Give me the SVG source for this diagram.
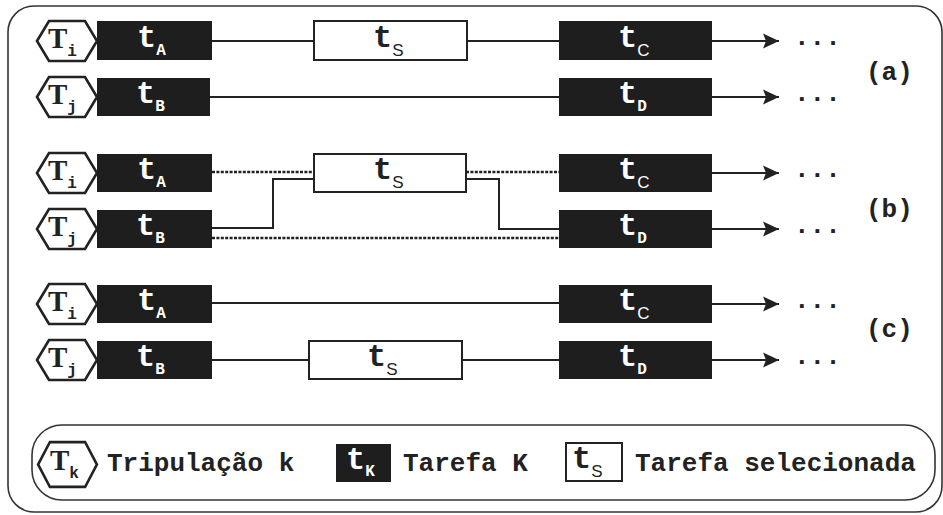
<svg xmlns="http://www.w3.org/2000/svg" width="943" height="515" viewBox="0 0 943 515">
<defs>
<style>
.frame{fill:#fff;stroke:#333;stroke-width:1.6}
.blk{fill:#1e1e1e}
.wbox{fill:#fff;stroke:#222;stroke-width:2}
.hex{fill:#fff;stroke:#222;stroke-width:2.6}
.ln{stroke:#222;stroke-width:2;fill:none}
.dt{stroke:#222;stroke-width:2.6;stroke-dasharray:3 1.4;fill:none}
.ar{stroke:#222;stroke-width:2;fill:none;marker-end:url(#ah)}
.mono{font-family:"Liberation Mono","Courier New",monospace;font-weight:bold}
.serif{font-family:"Liberation Serif","Times New Roman",serif;font-weight:bold}
.tw{fill:#fff}
.tb{fill:#222}
.big{font-size:32px}
.hx{font-size:29px}
.lab{font-size:26px;fill:#222}
.sub{font-size:16px}
.subs{font-size:17px;font-family:"Liberation Sans",Arial,sans-serif;font-weight:normal}
</style>
<marker id="ah" markerWidth="17" markerHeight="16" refX="16" refY="8" orient="auto" markerUnits="userSpaceOnUse">
<path d="M0,0.5 L16,8 L0,15.5 L3,8 Z" fill="#222"/>
</marker>
<polygon id="hexshape" points="-30,0 -18,-20 18,-20 30,0 18,20 -18,20"/>
</defs>

<rect class="frame" x="8" y="6" width="934" height="506" rx="26"/>

<g id="connectors">
<!-- (a) -->
<path class="ln" d="M212,41 H314 M467,41 H559"/>
<path class="ln" d="M210,97 H559"/>
<path class="ar" d="M712,41 H779"/>
<path class="ar" d="M712,97 H779"/>
<!-- (b) -->
<path class="dt" d="M212,172 H314 M466,172 H559"/>
<path class="dt" d="M212,238 H559"/>
<path class="ln" d="M212,228 H273 V179 H314"/>
<path class="ln" d="M466,179 H499 V229 H559"/>
<path class="ar" d="M712,173 H779"/>
<path class="ar" d="M712,229 H779"/>
<!-- (c) -->
<path class="ln" d="M212,303 H559"/>
<path class="ln" d="M212,360 H309 M462,360 H559"/>
<path class="ar" d="M712,304 H779"/>
<path class="ar" d="M712,360 H779"/>
</g>

<!-- row a1 -->
<g id="a-Ti">
<use href="#hexshape" class="hex" x="67" y="41"/>
<text class="serif tb hx" x="48" y="48">T<tspan class="mono sub" dy="8">i</tspan></text>
</g>
<g id="a-tA">
<rect class="blk" x="97" y="21" width="115" height="39"/>
<text class="mono tw big" x="137" y="47">t<tspan class="sub" dy="8">A</tspan></text>
</g>
<g id="a-tS">
<rect class="wbox" x="314" y="21" width="153" height="39"/>
<text class="mono tb big" x="373" y="47">t<tspan class="subs" dy="9">S</tspan></text>
</g>
<g id="a-tC">
<rect class="blk" x="559" y="21" width="153" height="39"/>
<text class="mono tw big" x="618" y="47">t<tspan class="subs" dy="9">C</tspan></text>
</g>
<text class="mono lab" x="794" y="45">...</text>

<!-- row a2 -->
<g id="a-Tj">
<use href="#hexshape" class="hex" x="67" y="97"/>
<text class="serif tb hx" x="48" y="104">T<tspan class="mono sub" dy="8">j</tspan></text>
</g>
<g id="a-tB">
<rect class="blk" x="97" y="78" width="113" height="38"/>
<text class="mono tw big" x="136" y="103">t<tspan class="sub" dy="8">B</tspan></text>
</g>
<g id="a-tD">
<rect class="blk" x="559" y="78" width="153" height="38"/>
<text class="mono tw big" x="618" y="103">t<tspan class="sub" dy="8">D</tspan></text>
</g>
<text class="mono lab" x="794" y="101">...</text>
<text class="mono lab" x="866" y="80">(a)</text>

<!-- row b1 -->
<g id="b-Ti">
<use href="#hexshape" class="hex" x="67" y="173"/>
<text class="serif tb hx" x="48" y="180">T<tspan class="mono sub" dy="8">i</tspan></text>
</g>
<g id="b-tA">
<rect class="blk" x="97" y="154" width="115" height="38"/>
<text class="mono tw big" x="137" y="179">t<tspan class="sub" dy="8">A</tspan></text>
</g>
<g id="b-tS">
<rect class="wbox" x="314" y="154" width="152" height="38"/>
<text class="mono tb big" x="373" y="179">t<tspan class="subs" dy="9">S</tspan></text>
</g>
<g id="b-tC">
<rect class="blk" x="559" y="154" width="153" height="38"/>
<text class="mono tw big" x="618" y="179">t<tspan class="subs" dy="9">C</tspan></text>
</g>
<text class="mono lab" x="794" y="177">...</text>

<!-- row b2 -->
<g id="b-Tj">
<use href="#hexshape" class="hex" x="67" y="229"/>
<text class="serif tb hx" x="48" y="236">T<tspan class="mono sub" dy="8">j</tspan></text>
</g>
<g id="b-tB">
<rect class="blk" x="97" y="210" width="115" height="38"/>
<text class="mono tw big" x="136" y="235">t<tspan class="sub" dy="8">B</tspan></text>
</g>
<g id="b-tD">
<rect class="blk" x="559" y="210" width="153" height="38"/>
<text class="mono tw big" x="618" y="235">t<tspan class="sub" dy="8">D</tspan></text>
</g>
<text class="mono lab" x="794" y="233">...</text>
<text class="mono lab" x="866" y="217">(b)</text>

<!-- row c1 -->
<g id="c-Ti">
<use href="#hexshape" class="hex" x="67" y="304"/>
<text class="serif tb hx" x="48" y="311">T<tspan class="mono sub" dy="8">i</tspan></text>
</g>
<g id="c-tA">
<rect class="blk" x="97" y="285" width="115" height="38"/>
<text class="mono tw big" x="137" y="310">t<tspan class="sub" dy="8">A</tspan></text>
</g>
<g id="c-tC">
<rect class="blk" x="559" y="285" width="153" height="38"/>
<text class="mono tw big" x="618" y="310">t<tspan class="subs" dy="9">C</tspan></text>
</g>
<text class="mono lab" x="794" y="308">...</text>

<!-- row c2 -->
<g id="c-Tj">
<use href="#hexshape" class="hex" x="67" y="360"/>
<text class="serif tb hx" x="48" y="367">T<tspan class="mono sub" dy="8">j</tspan></text>
</g>
<g id="c-tB">
<rect class="blk" x="97" y="341" width="115" height="38"/>
<text class="mono tw big" x="136" y="366">t<tspan class="sub" dy="8">B</tspan></text>
</g>
<g id="c-tS">
<rect class="wbox" x="309" y="341" width="153" height="38"/>
<text class="mono tb big" x="367" y="366">t<tspan class="subs" dy="9">S</tspan></text>
</g>
<g id="c-tD">
<rect class="blk" x="559" y="341" width="153" height="38"/>
<text class="mono tw big" x="618" y="366">t<tspan class="sub" dy="8">D</tspan></text>
</g>
<text class="mono lab" x="794" y="364">...</text>
<text class="mono lab" x="866" y="337">(c)</text>

<!-- legend -->
<g id="legend">
<rect class="frame" x="32" y="425" width="903" height="75" rx="30"/>
<g id="legend-Tk">
<use href="#hexshape" class="hex" transform="translate(67.5,464.5) scale(0.98,1.12)"/>
<text class="serif tb hx" x="50" y="470">T<tspan class="mono sub" dy="8">k</tspan></text>
<text class="mono lab" x="107" y="471">Tripulação k</text>
</g>
<g id="legend-tK">
<rect class="blk" x="336" y="444" width="55" height="38"/>
<text class="mono tw big" x="346" y="469">t<tspan class="sub" dy="7">K</tspan></text>
<text class="mono lab" x="403" y="471">Tarefa K</text>
</g>
<g id="legend-tS">
<rect class="wbox" x="566" y="443" width="56" height="38"/>
<text class="mono tb big" x="572" y="468">t<tspan class="subs" dy="9">S</tspan></text>
<text class="mono lab" x="635" y="471">Tarefa selecionada</text>
</g>
</g>
</svg>
